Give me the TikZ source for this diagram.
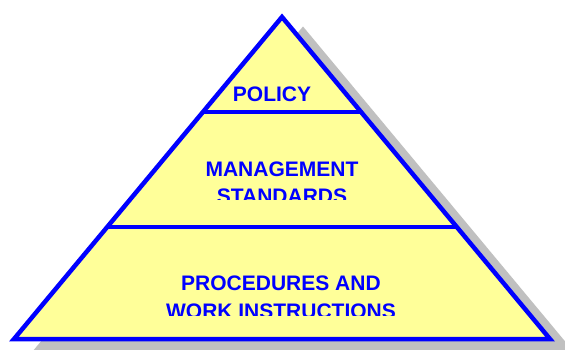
\documentclass[tikz,border=0pt]{standalone}
\usepackage{fontspec}
\setmainfont{Liberation Sans}
\usepackage{tikz}
\usetikzlibrary{calc}

\definecolor{pyrfill}{RGB}{255,255,153}
\definecolor{pyrblue}{RGB}{0,0,255}
\definecolor{pyrshadow}{RGB}{192,192,192}

\tikzset{
	level/.style={font=\bfseries\fontsize{21}{27.5}\selectfont, text=pyrblue, anchor=base, inner sep=0pt},
	edge/.style={draw=pyrblue, line width=4.5pt, line join=miter}
}

\begin{document}
\begin{tikzpicture}[x=1pt,y=-1pt]
			\useasboundingbox (0,0) rectangle (565,350);
			%%%	Punti
			\coordinate (apex) at (282,17);
			\coordinate (left) at (14,339);
			\coordinate (right) at (550,339);
			%%%	Ombra
			\begin{scope}
			\clip (0,0) rectangle (565,350);
			\draw[pyrshadow, fill=pyrshadow, line width=4.5pt, line join=miter]
			($(apex)+(21,13)$) -- ($(right)+(21,13)$) -- ($(left)+(21,13)$) -- cycle;
			\end{scope}
			%%%	Piramide
			\draw[edge, fill=pyrfill] (apex) -- (right) -- (left) -- cycle;
			\coordinate (a1) at ($(apex)!0.295!(left)$);
			\coordinate (b1) at ($(apex)!0.295!(right)$);
			\coordinate (a2) at ($(apex)!0.652!(left)$);
			\coordinate (b2) at ($(apex)!0.652!(right)$);
			\draw[edge] (a1) -- (b1);
			\draw[edge] (a2) -- (b2);
			%%%	Testi
			\node[level] (policy) at (272,102) {POLICY};
			\begin{scope}
			\clip (0,0) rectangle (565,199);
			\node[level, align=center] (mgmt) at (282,203.5) {MANAGEMENT\\STANDARDS};
			\end{scope}
			\begin{scope}
			\clip (0,0) rectangle (565,315.5);
			\node[level, align=center] (proc) at (281,318) {PROCEDURES AND\\WORK INSTRUCTIONS};
			\end{scope}
		\end{tikzpicture}
\end{document}
